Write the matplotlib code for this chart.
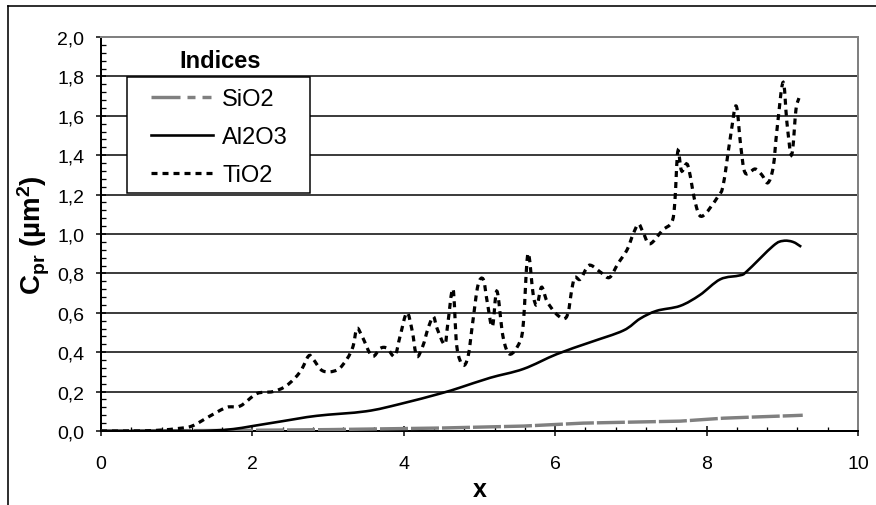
import matplotlib
matplotlib.use("Agg")
import matplotlib.pyplot as plt
from matplotlib.ticker import MultipleLocator, FuncFormatter
from matplotlib.lines import Line2D
from matplotlib.path import Path
from matplotlib.patches import PathPatch, Rectangle

plt.rcParams['font.family'] = ['Liberation Sans', 'DejaVu Sans']
plt.rcParams['mathtext.fontset'] = 'custom'
plt.rcParams['mathtext.rm'] = 'Liberation Sans'
plt.rcParams['mathtext.bf'] = 'Liberation Sans:bold'
plt.rcParams['mathtext.it'] = 'Liberation Sans:italic'
plt.rcParams['lines.scale_dashes'] = False

# ---- data ----
series_names = ["SiO2", "Al2O3", "TiO2"]

si_x = [0, 1.8, 3.0, 4.48, 5.58, 6.37, 7.12, 7.65, 8.22, 8.7, 9.14, 9.27]
si_y = [0, 0.003, 0.007, 0.015, 0.025, 0.04, 0.046, 0.05, 0.065, 0.072, 0.078, 0.08]

al_x = [0, 1.2, 1.5, 1.75, 2.0, 2.4, 2.85, 3.5, 3.95, 4.48, 4.74, 5.14, 5.58,
        6.02, 6.46, 6.9, 7.12, 7.34, 7.65, 7.91, 8.18, 8.44, 8.53, 8.88, 9.01,
        9.14, 9.25]
al_y = [0, 0, 0.003, 0.01, 0.025, 0.05, 0.077, 0.10, 0.137, 0.19, 0.22, 0.27,
        0.315, 0.39, 0.45, 0.51, 0.57, 0.61, 0.635, 0.69, 0.77, 0.79, 0.81,
        0.94, 0.965, 0.96, 0.935]

ti_x = [0, 0.5, 0.8, 1.0, 1.2, 1.44, 1.66, 1.84, 2.06, 2.27, 2.45, 2.63, 2.74,
        2.8, 2.93, 3.12, 3.25, 3.33, 3.38, 3.45, 3.58, 3.69, 3.78, 3.88, 3.95,
        4.04, 4.11, 4.17, 4.25, 4.32, 4.39, 4.44, 4.54, 4.58, 4.65, 4.70, 4.78,
        4.85, 4.91, 4.98, 5.05, 5.1, 5.17, 5.23, 5.31, 5.40, 5.53, 5.58, 5.64,
        5.71, 5.76, 5.82, 5.89, 6.0, 6.11, 6.17, 6.22, 6.26, 6.33, 6.42, 6.48,
        6.62, 6.72, 6.83, 6.95, 7.03, 7.1, 7.16, 7.25, 7.42, 7.54, 7.58, 7.62,
        7.67, 7.75, 7.85, 7.94, 8.15, 8.22, 8.31, 8.39, 8.45, 8.51, 8.64, 8.73,
        8.81, 8.88, 8.93, 9.01, 9.06, 9.11, 9.14, 9.18, 9.22]
ti_y = [0, 0, 0.005, 0.012, 0.025, 0.076, 0.12, 0.127, 0.19, 0.20, 0.23, 0.30,
        0.38, 0.366, 0.305, 0.31, 0.366, 0.43, 0.52, 0.48, 0.38, 0.42, 0.42,
        0.38, 0.48, 0.60, 0.51, 0.38, 0.43, 0.52, 0.58, 0.52, 0.44, 0.54, 0.72,
        0.43, 0.335, 0.38, 0.55, 0.74, 0.77, 0.66, 0.53, 0.71, 0.48, 0.39, 0.45,
        0.55, 0.90, 0.69, 0.64, 0.73, 0.66, 0.60, 0.57, 0.60, 0.72, 0.78, 0.77,
        0.83, 0.84, 0.80, 0.78, 0.85, 0.92, 1.0, 1.05, 1.01, 0.95, 1.02, 1.06,
        1.16, 1.42, 1.32, 1.35, 1.16, 1.09, 1.19, 1.25, 1.48, 1.65, 1.45, 1.31,
        1.33, 1.30, 1.26, 1.34, 1.53, 1.77, 1.57, 1.41, 1.44, 1.63, 1.69]

y_ticks = [0.0, 0.2, 0.4, 0.6, 0.8, 1.0, 1.2, 1.4, 1.6, 1.8, 2.0]
x_ticks = [0, 2, 4, 6, 8, 10]


def smooth_path(xs, ys):
    """Excel-style smoothed line: cubic Bezier segments through the points."""
    n = len(xs)
    verts = [(xs[0], ys[0])]
    codes = [Path.MOVETO]
    for i in range(n - 1):
        a = i - 1 if i > 0 else i
        d = i + 2 if i + 2 < n else i + 1
        c1 = (xs[i] + (xs[i + 1] - xs[a]) / 6, ys[i] + (ys[i + 1] - ys[a]) / 6)
        c2 = (xs[i + 1] - (xs[d] - xs[i]) / 6, ys[i + 1] - (ys[d] - ys[i]) / 6)
        verts += [c1, c2, (xs[i + 1], ys[i + 1])]
        codes += [Path.CURVE4] * 3
    return Path(verts, codes)


W, H = 876, 506
fig = plt.figure(figsize=(W / 100, H / 100), dpi=100)
ax = fig.add_axes([101 / W, 1 - 432 / H, (858 - 101) / W, (432 - 38) / H])

px = 0.72  # points per pixel
gray = '#808080'

ax.plot(si_x, si_y, color=gray, lw=3.4 * px, dashes=[28 * px, 3 * px],
        dash_capstyle='butt', zorder=3)
ax.add_patch(PathPatch(smooth_path(al_x, al_y), fill=False, edgecolor='black',
                       lw=2.6 * px, zorder=4, capstyle='butt'))
ax.add_patch(PathPatch(smooth_path(ti_x, ti_y), fill=False, edgecolor='black',
                       lw=3.2 * px, linestyle=(0, (6 * px, 5 * px)), zorder=5,
                       capstyle='butt'))

ax.set_xlim(0, 10)
ax.set_ylim(0, 2.0)
ax.set_xticks(x_ticks)
ax.set_yticks(y_ticks)
ax.xaxis.set_minor_locator(MultipleLocator(0.4))
ax.yaxis.set_minor_locator(MultipleLocator(0.04))
ax.yaxis.set_major_formatter(FuncFormatter(lambda v, p: f"{v:.1f}".replace('.', ',')))
ax.xaxis.set_major_formatter(FuncFormatter(lambda v, p: f"{v:g}"))

ax.tick_params(axis='both', which='major', direction='inout', length=10 * px,
               width=1.5 * px, labelsize=14, colors='black')
ax.tick_params(axis='x', which='major', pad=13.5)
ax.tick_params(axis='y', which='major', pad=8.5)
ax.tick_params(axis='both', which='minor', direction='in', length=4.5 * px,
               width=1.3 * px)

# grid lines
for v in y_ticks[1:-1]:
    ax.axhline(v, color='black', lw=1.5 * px, zorder=1)

for s in ['left', 'bottom']:
    ax.spines[s].set_linewidth(2 * px)
    ax.spines[s].set_color('black')
for s in ['top', 'right']:
    ax.spines[s].set_linewidth(2 * px)
    ax.spines[s].set_color(gray)

ax.set_xlabel('x', fontsize=18, fontweight='bold', labelpad=4)
ax.set_ylabel(r'C$_{\mathbf{pr}}$ (µm$^{\mathbf{2}}$)', fontsize=20,
              fontweight='bold')
ax.yaxis.set_label_coords((52 - 101) / 757, 0.5)

# legend box (drawn separately) + legend entries
bx0 = (127 - 101) / 757
bx1 = (310 - 101) / 757
by1 = (432 - 78) / 394
by0 = (432 - 194) / 394
ax.add_patch(Rectangle((bx0, by0), bx1 - bx0, by1 - by0, transform=ax.transAxes,
                       facecolor='white', edgecolor='black', lw=1.5 * px,
                       zorder=9))

h_si = Line2D([], [], color=gray, lw=3.4 * px,
              dashes=[29 * px, 7 * px, 8 * px, 7 * px, 9 * px, 2 * px])
h_al = Line2D([], [], color='black', lw=2.6 * px)
h_ti = Line2D([], [], color='black', lw=3.2 * px, dashes=[6 * px, 5 * px])
leg = ax.legend([h_si, h_al, h_ti], series_names, loc='upper left',
                bbox_to_anchor=((151 - 101) / 757, (432 - 89) / 394),
                fontsize=17, frameon=False, borderaxespad=0, borderpad=0,
                handlelength=62 / 23.6, handletextpad=0.38, labelspacing=0.68)
leg.set_zorder(10)

ax.text((220 - 101) / 757, (432 - 62) / 394, 'Indices', transform=ax.transAxes,
        ha='center', va='center', fontsize=17, fontweight='bold', zorder=11)

# outer chart frame (left and top visible)
fx = 8 / W
fy = 1 - 7 / H
fig.add_artist(Line2D([fx, fx], [0, fy], color='black', lw=1.6 * px,
                      transform=fig.transFigure))
fig.add_artist(Line2D([fx, 1], [fy, fy], color='black', lw=1.6 * px,
                      transform=fig.transFigure))

fig.savefig('out.png', dpi=100, facecolor='white')
